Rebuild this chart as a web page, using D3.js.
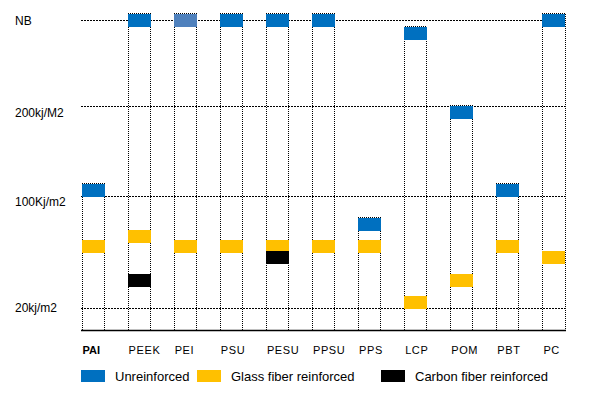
<!DOCTYPE html>
<html>
<head>
<meta charset="utf-8">
<script src="https://cdn.jsdelivr.net/npm/d3@7"></script>
<style>
  body { margin: 0; background: #fff; }
  svg { font-family: "Liberation Sans", Arial, sans-serif; }
</style>
</head>
<body>
<svg id="chart" width="593" height="399"></svg>
<script>
// materials along the bottom
var materials = ['PAI', 'PEEK', 'PEI', 'PSU', 'PESU', 'PPSU', 'PPS', 'LCP', 'POM', 'PBT', 'PC'];

// impact strength (kJ/m2, 300 = NB / no break)
var unreinforced = [106, 300, 300, 300, 300, 300, 80, 284, 193, 106, 300];
var glassFiber   = [64, 71, 64, 64, 64, 64, 64, 24, 40, 64, 56];
var carbonFiber  = [null, 40, null, null, 56, null, null, null, null, null, null];

// y axis ticks
var yTicks = [20, 100, 200, 300];
var yTickLabels = ['20kj/m2', '100Kj/m2', '200kj/M2', 'NB'];

// legend
var seriesNames = ['Unreinforced', 'Glass fiber reinforced', 'Carbon fiber reinforced'];
var seriesColors = ['#0070c0', '#ffc000', '#000000'];

// plot box (note: "top" is taken by window.top)
var plotLeft = 81, plotRight = 566, plotTop = 20, plotBottom = 330;
var boxH = 13;

var svg = d3.select('#chart');

// the axis is not linear, it is stretched between the ticks
var x = d3.scaleBand().domain(materials).range([plotLeft + 0.5, plotRight - 0.5])
  .paddingInner(0.5).paddingOuter(0);
var y = d3.scaleLinear()
  .domain([0, 20, 100, 200, 300])
  .range([plotBottom, 308, 196, 106, plotTop]);

// horizontal grid lines
svg.append('g').selectAll('line')
  .data(yTicks)
  .enter().append('line')
  .attr('x1', plotLeft)
  .attr('x2', plotRight)
  .attr('y1', function(d) { return Math.round(y(d)) + 0.5; })
  .attr('y2', function(d) { return Math.round(y(d)) + 0.5; })
  .style('stroke', '#000')
  .style('shape-rendering', 'crispEdges')
  .style('stroke-dasharray', '2,1');

// y labels (sit a bit below the lines for the two middle ones)
var nudge = {20: 4, 100: 10, 200: 11, 300: 5};
svg.append('g').selectAll('text')
  .data(yTicks)
  .enter().append('text')
  .attr('x', 15)
  .attr('y', function(d) { return y(d) + nudge[d]; })
  .style('font-size', '12px')
  .style('fill', '#000')
  .text(function(d, i) { return yTickLabels[i]; });

// dotted outline of each column, from the top box down to the axis
var cols = svg.append('g');
materials.forEach(function(m, i) {
  var vals = [unreinforced[i], glassFiber[i], carbonFiber[i]].filter(function(v) { return v != null; });
  var yTop = Math.round(y(d3.max(vals)) - boxH / 2) - 0.5;
  var x0 = Math.round(x(m)) + 0.5;
  var x1 = Math.round(x(m) + x.bandwidth()) - 0.5;
  cols.append('path')
    .attr('d', 'M' + x0 + ',' + plotBottom + 'V' + yTop + 'H' + x1 + 'V' + plotBottom)
    .style('fill', 'none')
    .style('stroke', '#000')
    .style('shape-rendering', 'crispEdges')
    .style('stroke-dasharray', '1,1');
});

// axis line
svg.append('line')
  .attr('x1', plotLeft).attr('x2', plotRight)
  .attr('y1', plotBottom + 0.5).attr('y2', plotBottom + 0.5)
  .style('stroke', '#000')
  .style('stroke-width', 1.5);

// boxes
function drawBoxes(values, color, name) {
  svg.append('g').selectAll('rect')
    .data(materials.map(function(m, i) { return {m: m, v: values[i]}; })
      .filter(function(d) { return d.v != null; }))
    .enter().append('rect')
    .attr('x', function(d) { return Math.round(x(d.m)); })
    .attr('y', function(d) { return Math.round(y(d.v) - boxH / 2); })
    .attr('width', Math.round(x.bandwidth()))
    .attr('height', boxH)
    .style('fill', function(d) {
      // PEI's unreinforced box is a lighter blue in the original
      return (name === 'u' && d.m === 'PEI') ? '#4f81bd' : color;
    });
}
drawBoxes(unreinforced, seriesColors[0], 'u');
drawBoxes(glassFiber, seriesColors[1], 'g');
drawBoxes(carbonFiber, seriesColors[2], 'c');

// category labels
svg.append('g').selectAll('text')
  .data(materials)
  .enter().append('text')
  .attr('x', function(d) { return x(d) + 1; })
  .attr('y', 354)
  .style('font-size', '11px')
  .style('font-weight', function(d) { return d === 'PAI' ? 'bold' : 'normal'; })
  .style('letter-spacing', function(d) { return d === 'PAI' ? '0px' : '0.6px'; })
  .style('fill', '#000')
  .text(function(d) { return d; });

// legend
var legendX = [81, 197, 381];
var legend = svg.append('g');
seriesNames.forEach(function(s, i) {
  legend.append('rect')
    .attr('x', legendX[i])
    .attr('y', 370)
    .attr('width', 24)
    .attr('height', 12)
    .style('fill', seriesColors[i]);
  legend.append('text')
    .attr('x', legendX[i] + 34)
    .attr('y', 381)
    .style('font-size', '13px')
    .style('fill', '#000')
    .text(s);
});
</script>
</body>
</html>
